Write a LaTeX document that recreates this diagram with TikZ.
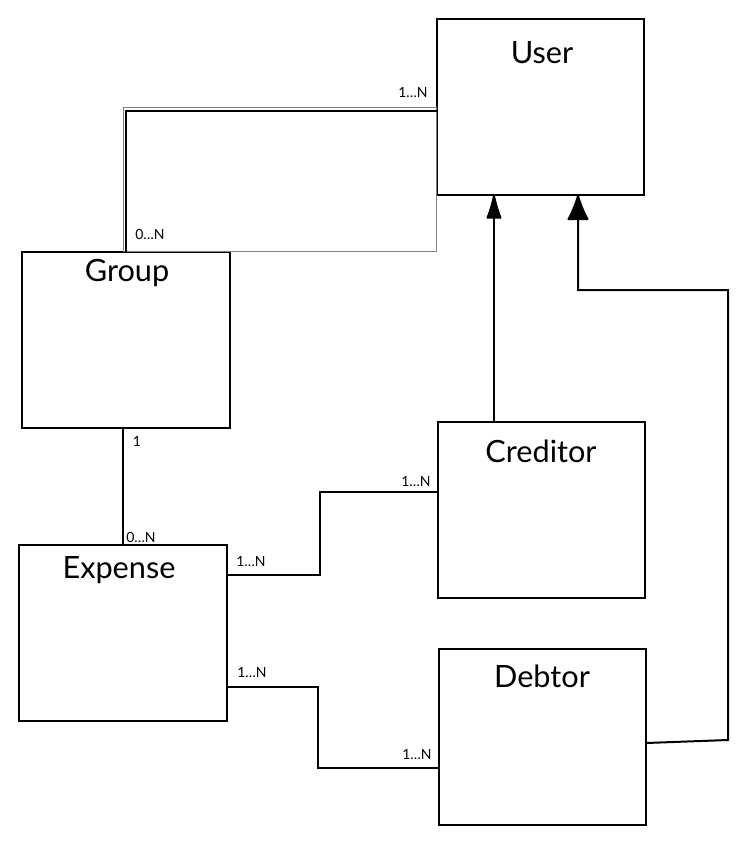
\documentclass[tikz,border=0pt]{standalone}
\usepackage{fontspec}
\setmainfont{Lato}
\usetikzlibrary{arrows.meta,positioning}

\begin{document}
\begin{tikzpicture}[x=0.75pt,y=-0.75pt]
\tikzstyle{entity}=[rectangle,draw=black,line width=1.5pt,
inner sep=0pt,outer sep=0pt,
minimum width=155.5pt,minimum height=132pt]
\tikzstyle{title}=[anchor=base,inner sep=0pt,font=\fontsize{23}{27}\selectfont]
\tikzstyle{mult}=[anchor=base,inner sep=0pt,font=\fontsize{10.5}{12}\selectfont]
\tikzstyle{link}=[line width=1.5pt]
\tikzstyle{ghost}=[gray,line width=0.6pt]
\useasboundingbox (0,0) rectangle (754,847);

\node[entity] at (540.5,107) (user) {};
\node[entity] at (126,339.5) (group) {};
\node[entity] at (541.5,510) (creditor) {};
\node[entity] at (123,632.5) (expense) {};
\node[entity] at (542.5,737) (debtor) {};

\node[title] at (542,63) (usert) {User};
\node[title] at (127,281) (groupt) {Group};
\node[title] at (541,462) (creditort) {Creditor};
\node[title] at (119,578) (expenset) {Expense};
\node[title] at (542,687) (debtort) {Debtor};

\node[mult] at (413,97) (m1) {1…N};
\node[mult] at (150,239) (m2) {0…N};
\node[mult] at (137,446) (m3) {1};
\node[mult] at (141,542) (m4) {0…N};
\node[mult] at (416,486) (m5) {1…N};
\node[mult] at (251,566) (m6) {1…N};
\node[mult] at (252,677) (m7) {1…N};
\node[mult] at (417,759) (m8) {1…N};

\draw[ghost] ([xshift=-2pt]group.north) rectangle (user.west);
\draw[link] ([yshift=-3pt]user.west) -| (group.north);
\draw[link] (group.south -| expense.north) -- (expense.north);
\draw[link] ([yshift=43pt]expense.east) -| (320,492) -- ([yshift=13.5pt]creditor.west);
\draw[link] ([yshift=-41pt]expense.east) -| (318,768) -- ([yshift=-23.25pt]debtor.west);
\draw[link,-{Latex[length=21pt,width=12pt,round]}] (creditor.north -| 494,0) -- (user.south -| 494,0);
\draw[link,-{Latex[length=21pt,width=17pt,round]}] ([yshift=-4.5pt]debtor.east) -- (728,740) -- (728,290) -| (user.south -| 578,0);

\end{tikzpicture}
\end{document}
